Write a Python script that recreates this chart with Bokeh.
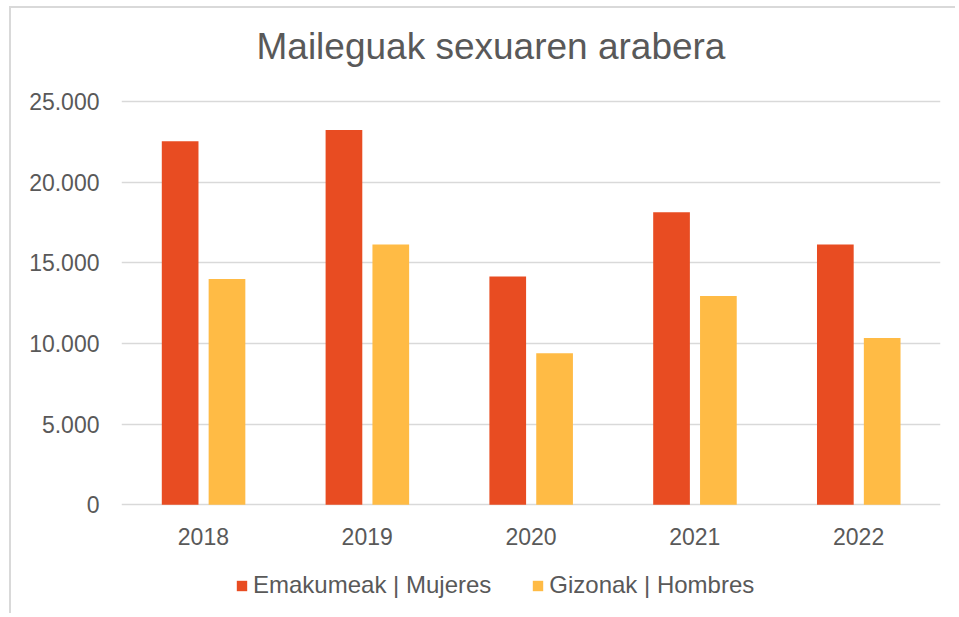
from bokeh.plotting import figure
from bokeh.models import (FactorRange, Range1d, ColumnDataSource, FixedTicker,
                          CustomJSTickFormatter, Legend, LegendItem, Title)
from bokeh.transform import dodge
from bokeh.embed import file_html
from bokeh.resources import INLINE

years = ["2018", "2019", "2020", "2021", "2022"]
mujeres = [22550, 23250, 14150, 18150, 16150]
hombres = [14000, 16150, 9400, 12950, 10350]
y_ticks = [0, 5000, 10000, 15000, 20000, 25000]
series_names = ["Emakumeak | Mujeres", "Gizonak | Hombres"]
title_text = "Maileguak sexuaren arabera"

RED = "#E84C22"
YELLOW = "#FFBB45"
TXT = "#595959"
GRID = "#D9D9D9"
FONT = "Liberation Sans"

src = ColumnDataSource(dict(years=years, mujeres=mujeres, hombres=hombres))

p = figure(width=946, height=607, output_backend="svg", toolbar_location=None,
           x_range=FactorRange(*years), y_range=Range1d(-6500, 25200),
           min_border_left=110, min_border_right=17, min_border_top=90,
           min_border_bottom=6, tools="")
p.title = None
p.outline_line_color = None
p.background_fill_color = "white"
p.border_fill_color = "white"
p.styles = {"border-left": "2px solid #D9D9D9", "border-top": "2px solid #D9D9D9",
            "margin-left": "9px", "margin-top": "6px"}

r1 = p.vbar(x=dodge("years", -0.142, range=p.x_range), top="mujeres", width=0.224,
            source=src, fill_color=RED, line_color=None)
r2 = p.vbar(x=dodge("years", 0.144, range=p.x_range), top="hombres", width=0.224,
            source=src, fill_color=YELLOW, line_color=None)

# spacer between the frame and the title
spacer = Title(text=" ", text_font_size="1px", standoff=29)
p.add_layout(spacer, "above")
t = Title(text=title_text, align="left", offset=135, text_font_size="37px",
          text_font=FONT, text_color=TXT, text_font_style="normal", standoff=0)
p.add_layout(t, "above")

p.xgrid.visible = False
p.ygrid.grid_line_color = GRID
p.ygrid.grid_line_width = 1.6
p.ygrid.ticker = FixedTicker(ticks=y_ticks)

p.yaxis.ticker = FixedTicker(ticks=y_ticks)
p.yaxis.formatter = CustomJSTickFormatter(
    code=r"return tick.toString().replace(/\B(?=(\d{3})+(?!\d))/g, '.');")
for ax in (p.xaxis, p.yaxis):
    ax.axis_line_color = None
    ax.major_tick_line_color = None
    ax.minor_tick_line_color = None
    ax.major_tick_in = 0
    ax.major_tick_out = 0
    ax.minor_tick_in = 0
    ax.minor_tick_out = 0
    ax.major_label_text_font = FONT
    ax.major_label_text_font_size = "23px"
    ax.major_label_text_color = TXT
p.yaxis.major_label_standoff = 22
p.xaxis.major_label_standoff = 23
p.xaxis.fixed_location = 0

legend = Legend(items=[LegendItem(label=series_names[0], renderers=[r1]),
                       LegendItem(label=series_names[1], renderers=[r2])],
                orientation="horizontal", location=(114, 10), padding=0, margin=0,
                spacing=40, label_standoff=5, glyph_width=13, glyph_height=13,
                label_text_font=FONT, label_text_font_size="24px", label_text_color=TXT,
                border_line_color=None, background_fill_alpha=0)
p.add_layout(legend, "center")

open("out.html", "w").write(file_html(p, INLINE))
